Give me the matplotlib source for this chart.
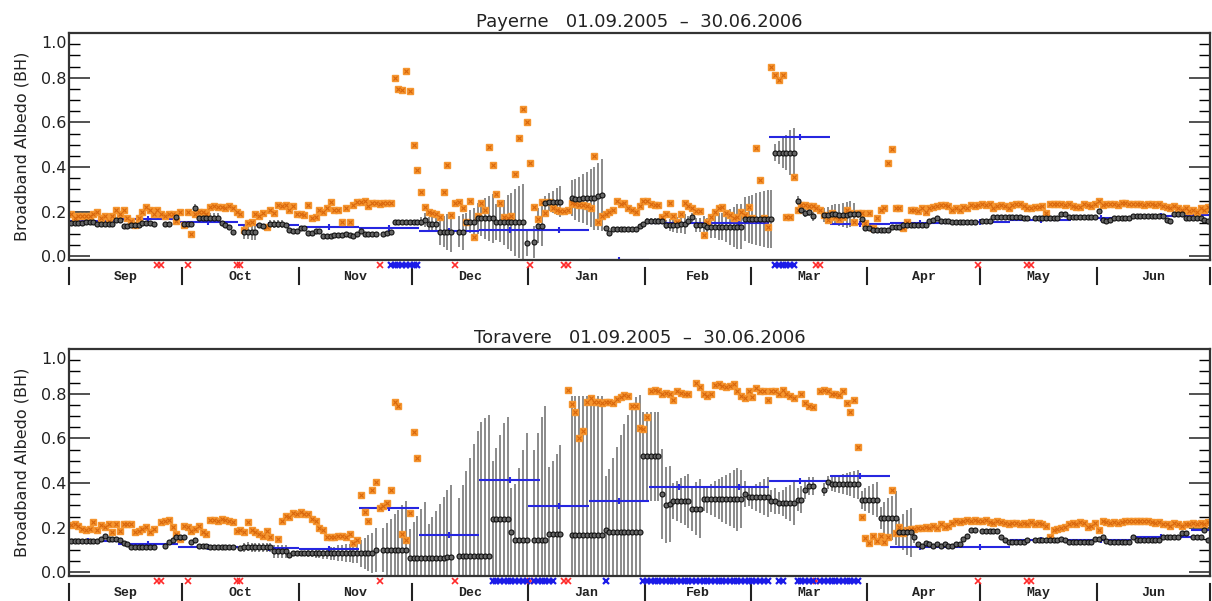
import numpy as np
import matplotlib.pyplot as plt

nan = np.nan

# days counted from 01.09.2005 (day 0) to 30.06.2006 (day 302)
month_names = ["Sep", "Oct", "Nov", "Dec", "Jan", "Feb", "Mar", "Apr", "May", "Jun"]
month_start = [0, 30, 61, 91, 122, 153, 181, 212, 242, 273, 303]

# 16-day composite periods (start day) and their means
period_start = [-3, 13, 29, 45, 61, 77, 93, 109, 122, 138, 154, 170, 186, 202, 218, 234, 250, 266, 282, 298]
period_end = [13, 29, 45, 61, 77, 93, 109, 125, 138, 154, 170, 186, 202, 218, 234, 250, 266, 282, 298, 303]

# ---------------- Payerne ----------------
pay_albedo = [
    .148, .148, .150, .148, .156, .156, .156, .145, .145, .145, .145, .145, .163, .163, .134, .134, .141, .141, .141, .150, .150, .150, .145, nan, nan, .145, .145, nan, .178, nan,
    .145, .145, .145, .215, .173, .173, .173, .173, .173, .173, .150, .140, .130, .110, nan, nan, .110, .110, .110, .110, .141, .135, nan, .145, .145, .145, .145, .140, .120, .115, .115,
    .125, .125, .106, .106, .113, .113, .090, .090, .090, .095, .095, .095, .100, .095, .090, .100, .115, .100, .100, .100, .100, nan, .100, .104, .108, .155, .155, .155, .155, .155,
    .155, .155, .155, .163, .145, .145, .145, .110, .110, .110, .110, nan, .110, .110, .156, .156, .156, .170, .170, .170, .170, .170, .153, .153, .153, .153, .153, .153, .153, .153, .062,
    nan, .064, .138, .138, .240, .245, .245, .245, .245, nan, nan, .260, .255, .255, .260, .260, .260, .260, .270, .275, .126, .104, .123, .123, .123, .123, .123, .123, .123, .135, .145,
    .160, .160, .160, .160, .160, .141, .141, .141, .141, .145, .145, .160, .175, .141, .141, .141, .133, .133, .133, .133, .133, .133, .133, .133, .133, .133, .167, .167,
    .167, .167, .167, .167, .167, .167, .465, .465, .465, .465, .465, .465, .250, .210, .195, .200, .180, nan, nan, .185, .185, .190, .190, .185, .185, .185, .190, .190, .190, .166, .126,
    .126, .120, .120, .120, .120, .120, .133, .133, .133, .140, .140, .140, .140, .140, .140, .140, .160, .165, .170, .158, .158, .158, .155, .155, .155, .155, .155, .155, .155, nan,
    .158, .158, .158, .175, .175, .175, .175, .175, .175, .175, .175, .170, .170, nan, .170, .170, .170, .170, .170, .170, .170, .190, .190, .175, .175, .175, .175, .175, .175, .175, .175,
    .205, .165, .160, .165, .170, .170, .170, .170, .170, .180, .180, .180, .180, .180, .180, .180, .180, .180, .163, .160, .190, .190, .190, .170, .170, .170, .170, .170, .165, .160,
]
pay_err = [
    0, 0, 0, 0, 0, 0, 0, 0, 0, 0, 0, 0, 0, 0, 0, 0, 0, 0, 0, 0, 0, 0, 0, 0, 0, 0, 0, 0, 0, 0,
    0, 0, 0, .02, .02, .02, .02, .02, .02, .02, 0, 0, 0, 0, 0, 0, .03, .03, .035, .035, 0, 0, 0, .02, .02, .02, .02, 0, 0, 0, 0,
    0, 0, 0, 0, 0, 0, 0, 0, 0, 0, 0, 0, 0, 0, 0, 0, 0, 0, 0, 0, 0, 0, 0, 0, 0, .01, .01, .01, .01, .01,
    .01, .01, .02, .03, .03, .03, .03, .06, .07, .08, .09, 0, .07, .08, .04, .05, .06, .07, .08, .09, .10, .11, .08, .09, .10, .12, .13, .15, .16, .17, .06,
    0, .07, .08, .09, .03, .04, .05, .06, .07, 0, 0, .08, .09, .10, .11, .12, .13, .14, .15, .16, .01, .01, .01, .01, .01, .01, .01, .01, .01, .01, .01,
    .01, .01, .01, .01, .01, .02, .025, .03, .035, .04, .045, .02, .02, .03, .03, .04, .04, .05, .05, .06, .06, .07, .08, .09, .10, .10, .10, .105,
    .11, .115, .12, .125, .13, .13, .04, .05, .07, .08, .10, .11, .02, .02, .02, .02, .02, 0, 0, .03, .035, .04, .045, .05, .055, .06, .06, .05, .02, .01, .01,
    0, 0, 0, 0, 0, 0, 0, 0, 0, 0, 0, 0, 0, 0, 0, 0, 0, 0, 0, 0, 0, 0, 0, 0, 0, 0, 0, 0, 0, 0,
    0, 0, 0, 0, 0, 0, 0, 0, 0, 0, 0, 0, 0, 0, 0, 0, 0, 0, 0, 0, 0, 0, 0, 0, 0, 0, 0, 0, 0, 0, 0,
    0, 0, 0, 0, 0, 0, 0, 0, 0, 0, 0, 0, 0, 0, 0, 0, 0, 0, 0, 0, 0, 0, 0, 0, 0, 0, 0, 0, 0, 0,
]
pay_orange = [
    .19, .17, .18, .18, .18, .18, .19, .20, .17, .18, .16, .18, .21, .19, .21, .17, .16, .14, .17, .20, .22, .21, .19, .21, .19, .18, .19, .19, .16, .20,
    .14, .20, .10, .19, .20, .20, .19, .22, .225, .22, .22, .215, .225, .215, .20, .19, .12, .15, .155, .19, .18, .195, .13, .21, .195, .23, .225, .23, .21, .225, .19,
    .19, .185, .23, .17, .178, .21, .20, .215, .244, .207, .207, .156, .215, .156, .23, .244, .244, .247, .225, .24, .237, .234, .24, .24, .24, .80, .75, .745, .83, .74,
    .50, .385, .29, .22, .20, .196, .19, .178, .289, .407, .185, .24, .244, .215, .156, .25, .089, .18, .237, .207, .49, .407, .281, .237, .178, .17, .18, .37, .53, .66, .60,
    .42, .222, .166, .244, .193, .244, .215, .21, .205, .205, .207, .24, .235, .23, .23, .225, .215, .45, .156, .18, .19, .20, .21, .25, .235, .24, .215, .21, .20, .225, .25,
    .25, .235, .23, .23, .178, .19, .24, .18, .156, .19, .24, .225, .215, .205, .205, .096, .156, .178, .20, .215, .222, .193, .185, .17, .178, .20, .185, .219,
    .17, .486, .341, .17, .133, .847, .81, .79, .81, .178, .178, .355, .21, .23, .23, .225, .225, .215, .21, .185, .163, .193, .178, .166, .178, .207, .193, .156, .193, .193, .151,
    .196, .129, .173, .207, .215, .418, .481, .215, .215, .126, .156, .21, .21, .205, .215, .20, .215, .22, .225, .23, .23, .225, .21, .215, .207, .222, .215, .23, .225, .23,
    .236, .23, .233, .215, .225, .23, .225, .215, .23, .236, .233, .225, .215, .218, .22, .222, .225, .196, .233, .233, .236, .233, .23, .236, .225, .222, .222, .233, .23, .225, .236,
    .247, .23, .233, .233, .236, .23, .24, .24, .236, .236, .233, .236, .23, .233, .236, .23, .236, .225, .222, .215, .225, .218, .21, .215, .205, .21, .20, .215, .21, .22,
]
pay_period = [.160, .166, .153, .141, .130, .126, .116, .120, .120, -.016, .148, .148, .535, .145, .150, .155, .165, .170, .180, .185]
pay_flag_red = [23, 24, 31, 44, 45, 82, 102, 122, 131, 132, 198, 199, 241, 254, 255]
pay_flag_blue = [(85, 92), (187, 192)]

# ---------------- Toravere ----------------
tor_albedo = [
    .14, .14, .14, .14, .14, .14, .14, .14, .15, .165, .15, .15, .15, .145, .13, .125, .116, .116, .116, .116, .116, .116, .116, nan, nan, .12, .138, .147, .157, .16,
    .157, nan, .135, .143, .12, .12, .12, .112, .112, .112, .112, .112, .112, .112, nan, .108, .112, .115, .112, .112, .112, .112, .112, .112, .094, .094, .094, .094, .076, .086, .086,
    .086, .086, .086, .086, .086, .086, .086, .086, .086, .086, .086, .086, .086, .086, .086, .086, .086, .086, .086, .086, .10, nan, .10, .10, .10, .10, .10, .10, .10, .064,
    .064, .064, .064, .064, .066, .066, .066, .066, .066, .07, .07, nan, .073, .073, .073, .073, .073, .073, .073, .073, .073, .237, .237, .237, .237, .237, .18, .146, .146, .146, .146,
    nan, .146, .146, .146, .146, .17, .17, .17, .17, nan, nan, .168, .168, .168, .168, .168, .168, .168, .168, .168, .19, .183, .183, .183, .183, .183, .183, .183, .183, .183, .52,
    .52, .52, .52, .52, .351, .30, .305, .321, .321, .321, .321, .321, .286, .286, .286, .327, .327, .327, .327, .327, .327, .327, .327, .327, .327, .327, .351, .336,
    .336, .336, .336, .336, .336, .32, .32, .311, .311, .311, .311, .311, .326, .326, .37, .385, .385, nan, nan, .37, .403, .395, .395, .395, .395, .395, .395, .395, .395, .326, .326,
    .326, .326, .326, .244, .244, .244, .244, .244, .18, .18, .18, .18, .16, .128, .12, .13, .125, .12, .128, .12, .125, .118, .12, .125, .125, .15, .165, .19, .19, nan,
    .187, .187, .187, .187, .187, .157, .145, .138, .138, .138, .138, .138, .145, nan, .143, .143, .143, .143, .143, .143, .143, .15, .143, .135, .135, .135, .135, .135, .135, .135, .15,
    .15, .16, .14, .135, .135, .135, .135, .135, .135, .157, .143, .143, .143, .143, .143, .143, .143, .157, .157, .157, .157, .157, .175, .175, nan, .16, .16, .16, .19, .143,
]
tor_err = [
    0, 0, 0, 0, 0, 0, 0, 0, 0, 0, 0, 0, 0, 0, 0, 0, 0, 0, 0, 0, 0, 0, 0, 0, 0, 0, 0, 0, 0, 0,
    0, 0, 0, 0, 0, 0, 0, 0, 0, 0, 0, 0, 0, 0, 0, 0, .02, .02, .02, .02, .02, .02, .02, .02, .03, .03, .03, .03, .01, .01, .01,
    .01, .01, .015, .015, .02, .02, .025, .025, .03, .03, .035, .035, .04, .04, .045, .045, .06, .07, .08, .09, .10, 0, .10, .12, .14, .16, .18, .20, .22, .13,
    .16, .19, .22, .25, .15, .18, .21, .24, .27, .30, .32, 0, .26, .32, .38, .44, .50, .56, .60, .62, .63, .26, .32, .38, .43, .46, .20, .25, .32, .40, .48,
    0, .40, .48, .55, .60, .30, .33, .36, .40, 0, 0, .62, .62, .62, .62, .62, .62, .62, .62, .62, .24, .28, .33, .38, .43, .48, .52, .56, .60, .61, .20,
    .20, .20, .20, .20, .20, .17, .17, .08, .09, .10, .11, .12, .10, .12, .13, .05, .06, .07, .08, .09, .10, .11, .12, .13, .14, .13, .06, .04,
    .05, .06, .07, .08, .09, .05, .06, .05, .06, .07, .08, .10, .05, .06, .04, .04, .04, 0, 0, .03, .03, .03, .035, .04, .045, .05, .055, .06, .065, .04, .05,
    .06, .07, .08, .05, .07, .09, .10, .12, .06, .08, .10, .11, .03, 0, 0, 0, 0, 0, 0, 0, 0, 0, 0, 0, 0, 0, 0, 0, 0, 0,
    0, 0, 0, 0, 0, 0, 0, 0, 0, 0, 0, 0, 0, 0, 0, 0, 0, 0, 0, 0, 0, 0, 0, 0, 0, 0, 0, 0, 0, 0, 0,
    0, 0, 0, 0, 0, 0, 0, 0, 0, 0, 0, 0, 0, 0, 0, 0, 0, 0, 0, 0, 0, 0, 0, 0, 0, 0, 0, 0, 0, 0,
]
tor_orange = [
    .213, .217, .21, .195, .19, .195, .225, .19, .213, .202, .217, .18, .217, .187, .217, .217, .217, .18, .187, .195, .202, .18, .195, nan, .225, .232, .235, .202, .173, .15,
    .21, .202, .187, .195, .21, .18, .173, .235, .235, .232, .239, .235, .232, .225, .187, .19, .18, .225, .19, .18, .173, .165, .187, .158, nan, .15, .232, .254, .25, .265, .262,
    .27, .262, .262, .239, .229, .199, .19, .158, .158, .16, .165, .165, .158, .173, .131, .143, .348, .27, .232, .37, .403, .289, .299, .31, .37, .765, .745, .172, .143, .265,
    .627, .512, nan, nan, nan, nan, nan, nan, nan, nan, nan, nan, nan, nan, nan, nan, nan, nan, nan, nan, nan, nan, nan, nan, nan, nan, nan, nan, nan, nan, nan,
    nan, nan, nan, nan, nan, nan, nan, nan, nan, nan, .817, .753, .716, .60, .634, .763, .782, .763, .763, .76, .763, .765, .76, .775, .785, .795, .79, .745, .745, .645, .64,
    .696, .81, .815, .81, .80, .805, .80, .772, .81, .805, .80, .80, nan, .846, .83, .80, .79, .80, .84, .845, .835, .83, .835, .845, .81, .79, .78, .81,
    .785, .825, .81, .81, .77, .81, .81, .80, .815, .80, .79, .78, nan, .80, .76, .745, .74, nan, .812, .815, .81, .80, .80, .795, .81, .76, .72, .77, .56, .25, .155,
    .13, .165, .14, .165, .135, .16, .37, .175, .202, .175, .19, .195, .195, .20, .20, .205, .20, .21, .20, .215, .205, .21, .22, .23, .225, .23, .235, .23, .235, .232,
    .23, .235, .225, .22, .23, .225, .222, .215, .22, .22, .215, .22, .215, .225, .215, .22, .215, .21, .16, .19, .195, .20, .205, .215, .22, .215, .225, .22, .205, .21, .22,
    .19, .23, .225, .22, .225, .222, .225, .23, .228, .23, .228, .23, .232, .23, .225, .222, .225, .218, .215, .21, .22, .215, .21, .218, .215, .22, .215, .22, .218, .225,
]
tor_period = [.140, .128, .116, .108, .106, .287, .167, .415, .296, .320, .384, .384, .410, .430, .116, .116, .143, .143, .158, .190]
tor_flag_red = [23, 24, 31, 44, 45, 82, 102, 122, 131, 132, 198, 241, 254, 255]
tor_flag_blue = [(112, 121), (123, 128), (142, 142), (152, 185), (188, 189), (193, 197), (199, 209)]


def draw_panel(ax, station, albedo, err, orange, period, flag_red, flag_blue):
    days = np.arange(len(albedo))
    albedo = np.array(albedo, dtype=float)
    err = np.array(err, dtype=float)
    orange = np.array(orange, dtype=float)

    has_err = (err > 0) & ~np.isnan(albedo)
    ax.vlines(days[has_err], albedo[has_err] - err[has_err], albedo[has_err] + err[has_err],
              color='#8a8a8a', lw=1.4, zorder=1)

    # 16-day means
    starts = np.clip(np.array(period_start), 0, 303) - 0.5
    ends = np.array(period_end) - 0.5
    centers = np.array(period_start) + 8 - 0.5
    ax.hlines(period, starts, ends, color='#2626e0', lw=1.5, zorder=2)
    ax.plot(centers, period, '|', color='#2626e0', ms=5, mew=1.5, zorder=2)

    ax.plot(days, orange, 's', ms=3.9, mfc='#f5952f', mec='#f5952f', zorder=3)
    ax.plot(days, orange, 'x', ms=3.0, color='#d8660c', mew=0.8, zorder=3)
    ax.plot(days, albedo, 'o', ms=3.6, mfc='#666666', mec='#111111', mew=0.8, zorder=4)

    ax.set_xlim(-0.5, 302.5)
    ax.set_ylim(-0.016, 1.0)
    ax.set_xticks([])
    ax.set_yticks([0.0, 0.2, 0.4, 0.6, 0.8, 1.0])
    ax.set_yticklabels(['0.0', '0.2', '0.4', '0.6', '0.8', ''])
    ax.set_yticks(np.arange(0.0, 1.0, 0.05), minor=True)
    ax.tick_params(axis='y', which='major', direction='in', length=15, width=1.1,
                   left=True, right=True, labelsize=11.5, pad=2, colors='#222222')
    ax.tick_params(axis='y', which='minor', direction='in', length=8, width=1.0,
                   left=True, right=True)
    trans_y = ax.get_yaxis_transform()
    ax.text(-0.002, 0.955, '1.0', transform=trans_y, ha='right', va='center',
            fontsize=11.5, color='#222222')
    for sp in ax.spines.values():
        sp.set_linewidth(1.6)
        sp.set_color('#333333')
        sp.set_zorder(5)

    ax.set_title(station + '   01.09.2005  \u2013  30.06.2006', fontsize=13, pad=4, color='#222222')
    ax.set_ylabel('Broadband Albedo (BH)', fontsize=11.5, labelpad=8, color='#222222')

    # month separators and names below the axis
    trans = ax.get_xaxis_transform()
    for m in month_start:
        ax.plot([m - 0.5, m - 0.5], [-0.037, -0.105], color='#222222', lw=1.5,
                transform=trans, clip_on=False)
    for name, a, b in zip(month_names, month_start[:-1], month_start[1:]):
        ax.text((a + b) / 2 - 0.5, -0.073, name, transform=trans, ha='center', va='center',
                fontsize=9.5, fontweight='bold', family='Liberation Mono', color='#222222')

    # flag strip
    ax.plot(flag_red, [-0.024] * len(flag_red), 'x', color='#ff2a2a', ms=3.8, mew=1.2,
            transform=trans, clip_on=False)
    for a, b in flag_blue:
        span = list(range(a, b + 1))
        ax.plot(span, [-0.024] * len(span), 'x', color='#1c1ce8', ms=4.2, mew=1.6,
                transform=trans, clip_on=False)


fig = plt.figure(figsize=(12.12, 6.01), dpi=100)
ax1 = fig.add_axes([69 / 1212, 1 - 260 / 601, 1141 / 1212, 227 / 601])
ax2 = fig.add_axes([69 / 1212, 1 - 576 / 601, 1141 / 1212, 227 / 601])

draw_panel(ax1, 'Payerne', pay_albedo, pay_err, pay_orange, pay_period, pay_flag_red, pay_flag_blue)
draw_panel(ax2, 'Toravere', tor_albedo, tor_err, tor_orange, tor_period, tor_flag_red, tor_flag_blue)

fig.savefig('out.png', dpi=100)
